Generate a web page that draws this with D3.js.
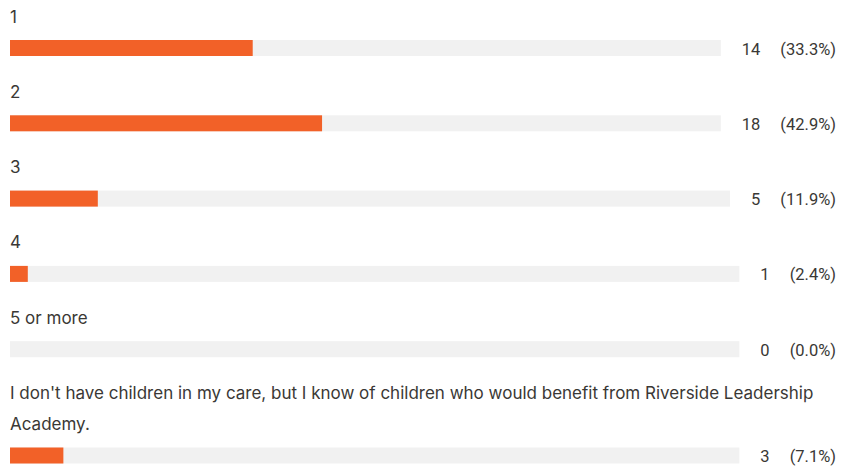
<!DOCTYPE html>
<html>
<head>
<meta charset="utf-8">
<script src="https://cdn.jsdelivr.net/npm/d3@7"></script>
<style>
  body { margin: 0; background: #fff; }
  svg text { font-family: Inter, "Noto Sans", sans-serif; font-size: 17px; fill: #3a3835; }
  svg text.num { font-family: Roboto, "Noto Sans", sans-serif; font-size: 16.5px; }
</style>
</head>
<body>
<svg id="chart" width="841" height="472"></svg>
<script>
// answer choices and response counts
const categories = ["1", "2", "3", "4", "5 or more",
  "I don't have children in my care, but I know of children who would benefit from Riverside Leadership Academy."];
const counts = [14, 18, 5, 1, 0, 3];
const percentLabels = ["(33.3%)", "(42.9%)", "(11.9%)", "(2.4%)", "(0.0%)", "(7.1%)"];

const total = d3.sum(counts);
const left = 10;
const right = 836;
const barH = 16;
const lineH = 31;
const wrapWidth = 830;

const svg = d3.select("#chart");

// splits a label into lines that fit wrapWidth
function wrapLines(str) {
  const probe = svg.append("text");
  const words = str.split(" ");
  let lines = [], line = [];
  words.forEach(w => {
    line.push(w);
    probe.text(line.join(" "));
    if (probe.node().getComputedTextLength() > wrapWidth && line.length > 1) {
      line.pop();
      lines.push(line.join(" "));
      line = [w];
    }
  });
  lines.push(line.join(" "));
  probe.remove();
  return lines;
}

let y = 22.5;
categories.forEach((cat, i) => {
  const lines = wrapLines(cat);
  const g = svg.append("g");

  g.selectAll("text.label")
    .data(lines)
    .enter().append("text")
    .attr("class", "label")
    .attr("x", left)
    .attr("y", (d, j) => y + j * lineH)
    .text(d => d);

  const barY = y + (lines.length - 1) * lineH + 17.5;

  const pct = g.append("text")
    .attr("class", "num")
    .attr("x", right)
    .attr("y", barY + 14.5)
    .attr("text-anchor", "end")
    .text(percentLabels[i]);
  const pctStart = right - pct.node().getComputedTextLength();

  const cnt = g.append("text")
    .attr("class", "num")
    .attr("x", pctStart - 20)
    .attr("y", barY + 14.5)
    .attr("text-anchor", "end")
    .text(counts[i]);
  const cntStart = pctStart - 20 - cnt.node().getComputedTextLength();

  const trackEnd = cntStart - 21;
  const x = d3.scaleLinear().domain([0, total]).range([left, trackEnd]);

  g.append("rect")
    .attr("x", left)
    .attr("y", barY)
    .attr("width", trackEnd - left)
    .attr("height", barH)
    .attr("fill", "#f1f1f1");

  g.append("rect")
    .attr("x", left)
    .attr("y", barY)
    .attr("width", x(counts[i]) - left)
    .attr("height", barH)
    .attr("fill", "#f26128");

  y = barY + barH + 41.8;
});
</script>
</body>
</html>
